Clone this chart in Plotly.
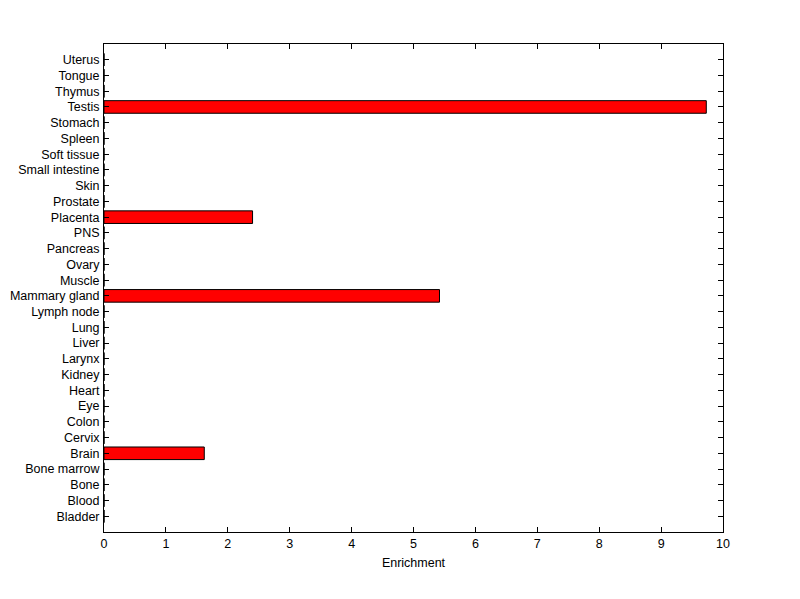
import plotly.graph_objects as go

tissues = ["Bladder", "Blood", "Bone", "Bone marrow", "Brain", "Cervix", "Colon", "Eye",
           "Heart", "Kidney", "Larynx", "Liver", "Lung", "Lymph node", "Mammary gland",
           "Muscle", "Ovary", "Pancreas", "PNS", "Placenta", "Prostate", "Skin",
           "Small intestine", "Soft tissue", "Spleen", "Stomach", "Testis", "Thymus",
           "Tongue", "Uterus"]
enrichment = [0, 0, 0, 0, 1.62, 0, 0, 0,
              0, 0, 0, 0, 0, 0, 5.42,
              0, 0, 0, 0, 2.40, 0, 0,
              0, 0, 0, 0, 9.73, 0,
              0, 0]
x_ticks = list(range(0, 11))

fig = go.Figure()
fig.add_trace(go.Bar(
    x=enrichment, y=tissues, orientation="h", width=0.8,
    marker=dict(color="#ff0000", line=dict(color="black", width=1)),
))

font = dict(family="Liberation Sans, Arial, sans-serif", size=12.5, color="black")
fig.update_layout(
    width=792, height=591,
    margin=dict(l=96, r=77, t=36, b=67),
    paper_bgcolor="white", plot_bgcolor="white",
    showlegend=False, font=font,
    xaxis=dict(range=[0, 10], tickmode="array", tickvals=x_ticks, ticks="inside",
               ticklen=5, tickcolor="black", showline=True, linecolor="black",
               linewidth=1, mirror="ticks", showgrid=False, zeroline=False,
               automargin=False,
               title=dict(text="Enrichment", font=font, standoff=8)),
    yaxis=dict(type="category", categoryorder="array", categoryarray=tissues,
               tickmode="array", tickvals=tissues, ticktext=tissues,
               range=[-1, 30], ticks="inside", ticklen=5, tickcolor="black",
               showline=True, linecolor="black", linewidth=1, mirror="ticks",
               showgrid=False, zeroline=False, ticklabelstandoff=1,
               automargin=False),
)

fig.write_html("out.html")
